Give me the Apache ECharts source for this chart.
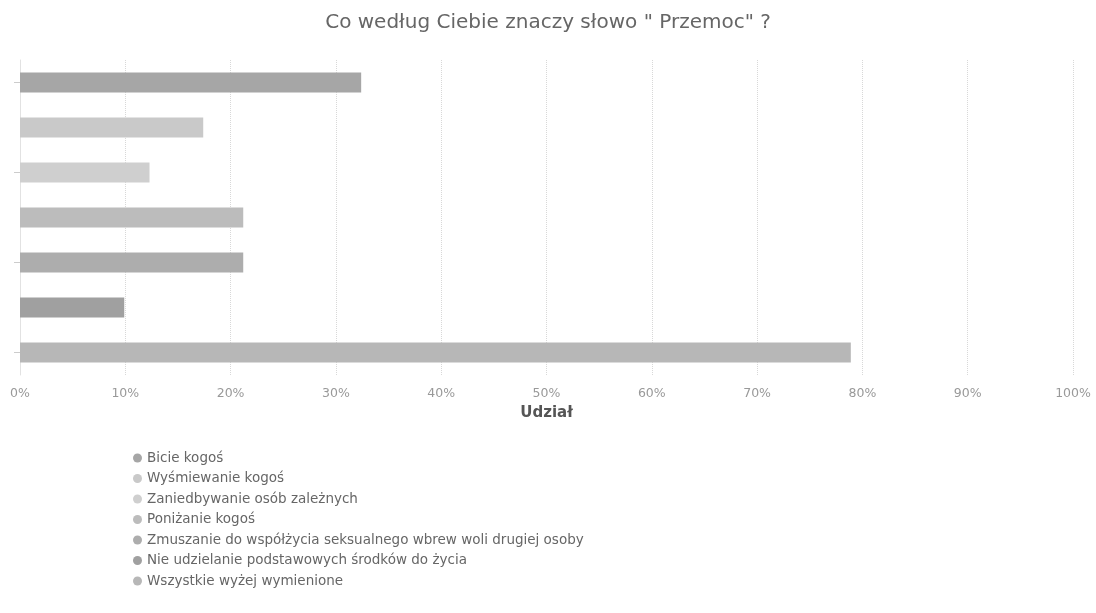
<!DOCTYPE html>
<html>
<head>
<meta charset="utf-8">
<script src="https://cdn.jsdelivr.net/npm/echarts@6/dist/echarts.min.js"></script>
<style>html,body{margin:0;padding:0;background:#fff}#c{width:1096px;height:613px}</style>
</head>
<body>
<div id="c"></div>
<script>
const titleText = 'Co według Ciebie znaczy słowo " Przemoc" ?';
const axisName = 'Udział';
const categories = [
  'Bicie kogoś',
  'Wyśmiewanie kogoś',
  'Zaniedbywanie osób zależnych',
  'Poniżanie kogoś',
  'Zmuszanie do współżycia seksualnego wbrew woli drugiej osoby',
  'Nie udzielanie podstawowych środków do życia',
  'Wszystkie wyżej wymienione'
];
const values = [32.4, 17.4, 12.3, 21.2, 21.2, 9.9, 78.9];
const colors = ['#a6a6a6', '#c9c9c9', '#cfcfcf', '#bcbcbc', '#adadad', '#a0a0a0', '#b7b7b7'];
const xTicks = [0, 10, 20, 30, 40, 50, 60, 70, 80, 90, 100];

const series = categories.map((name, i) => ({
  name: name,
  type: 'bar',
  stack: 'all',
  barWidth: 20,
  itemStyle: { color: colors[i] },
  data: categories.map((_, j) => (j === i ? values[i] : '-'))
}));

const chart = echarts.init(document.getElementById('c'));
chart.setOption({
  animation: false,
  color: colors,
  title: {
    text: titleText,
    left: 'center',
    top: 8,
    textStyle: { fontFamily: 'DejaVu Sans', fontSize: 20, fontWeight: 'normal', color: '#666' }
  },
  grid: { left: 20, right: 23, top: 60, bottom: 238, containLabel: false },
  xAxis: {
    type: 'value',
    min: xTicks[0],
    max: xTicks[xTicks.length - 1],
    interval: 10,
    name: axisName,
    nameLocation: 'middle',
    nameGap: 31,
    nameTextStyle: { fontFamily: 'DejaVu Sans', fontSize: 15, fontWeight: 'bold', color: '#555' },
    axisLine: { show: false },
    axisTick: { show: false },
    axisLabel: {
      fontFamily: 'DejaVu Sans', fontSize: 12.5, color: '#999', margin: 12,
      formatter: v => v + '%'
    },
    splitLine: { show: true, lineStyle: { color: '#d8d8d8', type: 'dotted', width: 1 } }
  },
  yAxis: {
    type: 'category',
    inverse: true,
    data: categories,
    axisLabel: { show: false },
    axisLine: { show: true, lineStyle: { color: '#e2e2e2' } },
    axisTick: { show: true, alignWithLabel: true, interval: 1, length: 6, lineStyle: { color: '#cccccc' } },
    splitLine: { show: false }
  },
  legend: {
    orient: 'vertical',
    left: 128,
    top: 446,
    icon: 'circle',
    itemWidth: 9,
    itemHeight: 9,
    itemGap: 6.5,
    selectedMode: false,
    textStyle: { fontFamily: 'DejaVu Sans', fontSize: 13.5, color: '#666' },
    data: categories
  },
  series: series
});
</script>
</body>
</html>
